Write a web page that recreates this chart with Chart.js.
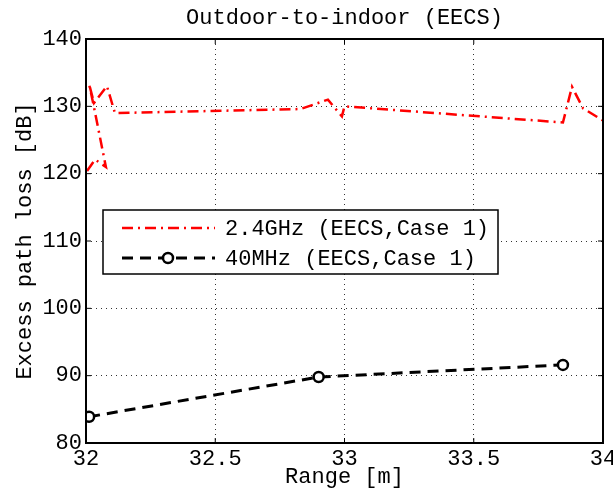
<!DOCTYPE html>
<html>
<head>
<meta charset="utf-8">
<script src="https://cdn.jsdelivr.net/npm/chart.js@4"></script>
<style>
  html, body { margin: 0; padding: 0; background: #fff; }
  #wrap { width: 613px; height: 488px; }
</style>
</head>
<body>
<div id="wrap"><canvas id="chart" width="613" height="488"></canvas></div>
<script>
const chartTitle = "Outdoor-to-indoor (EECS)";
const xTitle = "Range [m]";
const yTitle = "Excess path loss [dB]";

const xTicks = [32, 32.5, 33, 33.5, 34];
const yTicks = [80, 90, 100, 110, 120, 130, 140];

// 2.4GHz trace (range in m, loss in dB)
const wifiLabel = "2.4GHz (EECS,Case 1)";
const wifiRange = [32.004, 32.035, 32.077, 32.027, 32.012, 32.031, 32.081, 32.112, 32.83, 32.936, 32.99, 33.0, 33.845, 33.88, 33.923, 34.0];
const wifiLoss = [120.4, 122.1, 121.0, 130.6, 133.3, 130.5, 133.0, 129.0, 129.6, 131.0, 128.5, 130.0, 127.6, 132.9, 129.7, 127.9];

// 40MHz trace
const vhfLabel = "40MHz (EECS,Case 1)";
const vhfRange = [32.012, 32.90, 33.845];
const vhfLoss = [83.9, 89.8, 91.6];

const FONT = "'Liberation Mono', 'DejaVu Sans Mono', monospace";
Chart.defaults.color = "#000";
Chart.defaults.font.family = FONT;
Chart.defaults.font.size = 22;

const toPoints = (xs, ys) => xs.map((x, i) => ({ x: x, y: ys[i] }));

// title centred over the plot, frame + inward ticks, boxed legend inside the plot
const framePlugin = {
  id: "frame",
  afterDraw(chart) {
    const { ctx, chartArea: a, scales } = chart;
    ctx.save();
    ctx.strokeStyle = "#000";
    ctx.lineWidth = 2;
    ctx.setLineDash([]);
    ctx.strokeRect(a.left, a.top, a.right - a.left, a.bottom - a.top);
    ctx.lineWidth = 1;
    xTicks.forEach(v => {
      const px = scales.x.getPixelForValue(v);
      ctx.beginPath();
      ctx.moveTo(px, a.bottom); ctx.lineTo(px, a.bottom - 5);
      ctx.moveTo(px, a.top); ctx.lineTo(px, a.top + 5);
      ctx.stroke();
    });
    yTicks.forEach(v => {
      const py = scales.y.getPixelForValue(v);
      ctx.beginPath();
      ctx.moveTo(a.left, py); ctx.lineTo(a.left + 5, py);
      ctx.moveTo(a.right, py); ctx.lineTo(a.right - 5, py);
      ctx.stroke();
    });

    ctx.fillStyle = "#000";
    ctx.font = "22px " + FONT;
    ctx.textAlign = "center";
    ctx.textBaseline = "middle";
    ctx.fillText(chartTitle, (a.left + a.right) / 2, 18);

    // legend
    const lx = 103, ly = 210, lw = 395, lh = 64;
    ctx.fillStyle = "#fff";
    ctx.fillRect(lx, ly, lw, lh);
    ctx.strokeStyle = "#000";
    ctx.lineWidth = 1.5;
    ctx.strokeRect(lx, ly, lw, lh);
    chart.data.datasets.forEach((ds, i) => {
      const y = ly + 18 + i * 30;
      ctx.save();
      ctx.strokeStyle = ds.borderColor;
      ctx.lineWidth = ds.borderWidth;
      ctx.setLineDash(ds.borderDash || []);
      ctx.beginPath();
      ctx.moveTo(lx + 19, y);
      ctx.lineTo(lx + 112, y);
      ctx.stroke();
      if (ds.pointRadius > 0) {
        ctx.setLineDash([]);
        ctx.fillStyle = ds.pointBackgroundColor;
        ctx.strokeStyle = ds.pointBorderColor;
        ctx.lineWidth = ds.pointBorderWidth;
        ctx.beginPath();
        ctx.arc(lx + 65, y, ds.pointRadius, 0, Math.PI * 2);
        ctx.fill();
        ctx.stroke();
      }
      ctx.restore();
      ctx.fillStyle = "#000";
      ctx.textAlign = "left";
      ctx.textBaseline = "middle";
      ctx.fillText(ds.label, lx + 122, y + 1);
    });
    ctx.restore();
  }
};

const chart = new Chart(document.getElementById("chart"), {
  type: "scatter",
  data: {
    datasets: [
      {
        label: wifiLabel,
        data: toPoints(wifiRange, wifiLoss),
        showLine: true,
        borderColor: "#ff0000",
        backgroundColor: "#ff0000",
        borderWidth: 2.5,
        borderDash: [11, 5, 2, 5],
        pointRadius: 0,
        tension: 0
      },
      {
        label: vhfLabel,
        data: toPoints(vhfRange, vhfLoss),
        showLine: true,
        borderColor: "#000",
        borderWidth: 3,
        borderDash: [11, 7],
        pointRadius: 5,
        pointBackgroundColor: "#fff",
        pointBorderColor: "#000",
        pointBorderWidth: 2.5,
        tension: 0
      }
    ]
  },
  plugins: [framePlugin],
  options: {
    responsive: false,
    animation: false,
    layout: { padding: { top: 39, right: 10, left: 0, bottom: 0 } },
    plugins: {
      legend: { display: false },
      title: { display: false },
      tooltip: { enabled: false }
    },
    scales: {
      x: {
        type: "linear",
        min: 32,
        max: 34,
        afterBuildTicks: s => { s.ticks = xTicks.map(v => ({ value: v })); },
        afterFit: s => { s.height = 45; s.paddingLeft = 0; s.paddingRight = 0; },
        ticks: {
          padding: 3,
          maxRotation: 0,
          autoSkip: false,
          callback: v => String(v)
        },
        grid: { color: "#333", lineWidth: 1, drawTicks: false },
        border: { display: false, dash: [1, 4] },
        title: {
          display: true,
          text: xTitle,
          font: { size: 22, lineHeight: 1 },
          padding: { top: 0, bottom: 0 }
        }
      },
      y: {
        type: "linear",
        min: 80,
        max: 140,
        afterBuildTicks: s => { s.ticks = yTicks.map(v => ({ value: v })); },
        afterFit: s => { s.width = 86; s.paddingTop = 0; s.paddingBottom = 0; },
        ticks: {
          padding: 4,
          autoSkip: false,
          callback: v => String(v)
        },
        grid: { color: "#333", lineWidth: 1, drawTicks: false },
        border: { display: false, dash: [1, 4] },
        title: {
          display: true,
          text: yTitle,
          font: { size: 22, lineHeight: 1 },
          padding: { top: 14, bottom: 0 }
        }
      }
    }
  }
});
</script>
</body>
</html>
